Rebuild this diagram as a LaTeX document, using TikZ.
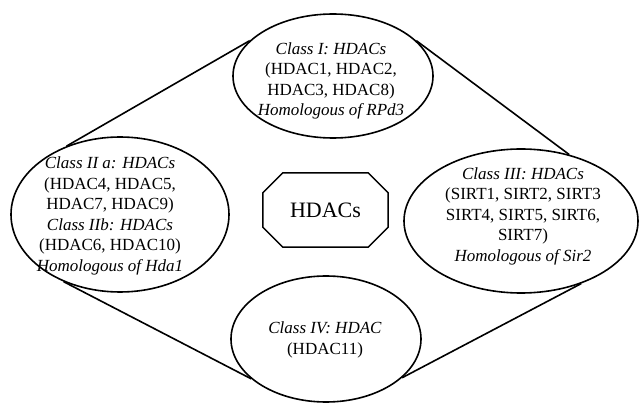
\documentclass[tikz,border=0pt]{standalone}
\usepackage{fontspec}
\setmainfont{Liberation Serif}
\usetikzlibrary{shapes.geometric,calc}
\begin{document}
\begin{tikzpicture}[x=1pt,y=-1pt,
  oval/.style={ellipse, draw, line width=1.6pt, fill=white, inner sep=0pt},
  lbl/.style={align=center, font=\fontsize{17}{20.5}\selectfont, inner sep=0pt},
  link/.style={line width=1.6pt}]
\useasboundingbox (0,0) rectangle (640,403);
\node[oval, minimum width=200pt, minimum height=124pt] (T) at (333,76) {};
\node[oval, minimum width=218pt, minimum height=155pt] (L) at (120,214.5) {};
\node[oval, minimum width=234pt, minimum height=144pt] (R) at (521,221) {};
\node[oval, minimum width=190pt, minimum height=126pt] (B) at (326,339) {};
\draw[link] (L.128) -- (T.157);
\draw[link] (L.230) -- (B.208);
\draw[link] (B.333) -- (R.314);
\draw[link] (T.23) -- (R.54);
\node[lbl] (Tt) at (331,81) {\textit{Class I: HDACs}\\(HDAC1, HDAC2,\\HDAC3, HDAC8)\\\textit{Homologous of RPd3}};
\node[lbl] (Lt) at (110,216) {\textit{Class II a: HDACs}\\(HDAC4, HDAC5,\\HDAC7, HDAC9)\\\textit{Class IIb: HDACs}\\(HDAC6, HDAC10)\\\textit{Homologous of Hda1}};
\node[lbl] (Rt) at (523,216) {\textit{Class III: HDACs}\\(SIRT1, SIRT2, SIRT3\\SIRT4, SIRT5, SIRT6,\\SIRT7)\\\textit{Homologous of Sir2}};
\node[lbl] (Bt) at (325,340) {\textit{Class IV: HDAC}\\(HDAC11)};
\node[minimum width=125pt, minimum height=74pt, inner sep=0pt, font=\fontsize{22}{26}\selectfont] (H) at (325.5,210) {HDACs};
\draw[line width=1.5pt] ([xshift=20pt]H.north west) -- ([xshift=-20pt]H.north east)
  -- ([yshift=-20pt]H.north east) -- ([yshift=20pt]H.south east)
  -- ([xshift=-20pt]H.south east) -- ([xshift=20pt]H.south west)
  -- ([yshift=20pt]H.south west) -- ([yshift=-20pt]H.north west) -- cycle;
\end{tikzpicture}
\end{document}
